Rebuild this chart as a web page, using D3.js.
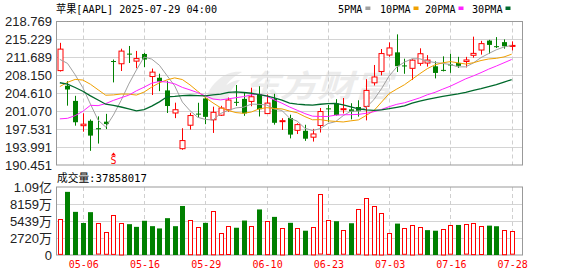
<!DOCTYPE html>
<html><head><meta charset="utf-8">
<script src="https://cdn.jsdelivr.net/npm/d3@7/dist/d3.min.js"></script>
<style>body{margin:0;background:#fff}svg{display:block}</style>
</head><body><svg id="c" width="578" height="276"></svg>
<script>
// ---- data ----
const dates = ["05-01","05-02","05-05","05-06","05-07","05-08","05-09","05-12","05-13","05-14","05-15","05-16","05-19","05-20","05-21","05-22","05-23","05-27","05-28","05-29","05-30","06-02","06-03","06-04","06-05","06-06","06-09","06-10","06-11","06-12","06-13","06-16","06-17","06-18","06-20","06-23","06-24","06-25","06-26","06-27","06-30","07-01","07-02","07-03","07-07","07-08","07-09","07-10","07-11","07-14","07-15","07-16","07-17","07-18","07-21","07-22","07-23","07-24","07-25","07-28"];
const openP  = [209.08,206.09,203.10,198.21,199.17,197.72,199.00,210.97,210.43,212.43,210.95,212.36,207.91,207.67,205.17,200.71,193.67,198.30,200.59,203.58,199.37,200.28,201.35,202.91,203.50,203.00,204.39,200.60,203.50,199.08,199.73,197.30,197.20,195.94,198.24,201.63,202.59,201.45,201.43,201.89,202.01,206.67,208.91,212.15,212.68,210.10,209.53,210.51,210.57,209.93,209.22,210.30,210.57,210.87,212.10,213.14,215.00,213.90,214.70,214.03];
const highP  = [214.56,206.99,204.10,200.65,199.44,200.05,200.54,211.27,213.40,213.94,212.96,212.57,209.48,208.47,207.04,202.75,197.70,200.74,202.73,203.81,201.96,202.13,203.77,206.24,204.75,205.70,206.00,204.35,204.50,199.68,200.37,198.69,198.39,197.57,201.70,202.30,203.44,203.67,202.64,203.22,207.39,210.19,213.34,214.65,216.23,211.43,211.33,213.48,212.13,210.91,211.89,212.40,211.80,211.79,215.78,214.95,215.15,215.69,215.24,214.85];
const lowP   = [208.90,202.16,198.21,197.02,193.25,194.68,197.54,206.75,209.00,210.58,209.54,209.77,204.26,205.03,200.71,199.70,193.46,197.43,199.90,198.51,196.78,200.12,200.96,202.10,200.15,202.05,200.02,200.57,198.41,197.36,195.70,196.56,195.21,195.07,196.86,198.96,200.20,200.62,199.46,200.00,199.26,206.14,208.14,211.81,208.80,208.45,207.22,210.03,209.86,207.54,208.92,208.64,209.59,209.70,211.63,212.23,212.41,213.53,213.40,213.06];
const closeP = [213.32,205.35,198.89,198.51,196.25,197.49,198.53,210.79,212.93,212.33,211.45,211.26,208.78,206.86,202.09,201.36,195.27,200.21,200.42,199.95,200.85,201.70,203.27,202.82,200.63,203.92,201.45,202.67,198.78,199.20,196.45,198.42,195.64,196.58,201.00,201.50,200.30,201.56,201.00,201.08,205.17,207.82,212.44,213.55,209.95,210.01,211.14,212.41,211.16,208.62,209.11,210.16,210.02,211.18,212.48,214.40,214.15,213.76,213.88,214.05];
const volumeM = [57.37,101.01,69.02,51.22,68.54,50.48,36.45,63.78,51.91,49.33,45.03,54.74,46.14,42.50,58.92,46.11,78.43,56.29,45.34,51.40,70.82,35.42,46.38,43.60,55.13,46.61,72.86,54.67,60.99,43.90,51.45,43.02,38.86,45.39,96.81,55.81,54.06,39.53,50.80,73.19,91.91,78.79,67.94,34.96,50.23,42.85,48.75,44.44,39.77,38.84,42.30,47.49,48.07,48.97,51.38,46.40,46.99,46.02,40.27,37.86];
// closes of the 29 sessions before the first candle (needed for the moving averages)
const priorCloses = [214.10,218.27,220.73,223.75,221.53,223.85,217.90,222.13,223.19,223.89,203.19,188.38,181.46,172.42,198.85,190.42,198.15,202.52,202.14,194.27,196.98,193.16,199.74,204.60,208.37,209.28,210.14,211.21,212.50];
const priceTicks = [190.451,193.991,197.531,201.070,204.610,208.150,211.689,215.229,218.769];
const priceTickLabels = ["190.451","193.991","197.531","201.070","204.610","208.150","211.689","215.229","218.769"];
const volTicks = [0,27.195,54.39,81.585,108.78];
const volTickLabels = ["0","2720万","5439万","8159万","1.09亿"];
const dateTickIdx = [3,11,19,27,35,43,51,59];
const maPeriods = [5,10,20,30];
const maLabels = ["5PMA","10PMA","20PMA","30PMA"];
const maColors = ["#a0a0a0","#f0a000","#ff22ff","#006a2c"];
const signalIdx = [7];
const titleText = "苹果[AAPL] 2025-07-29 04:00";
const volTitle = "成交量:37858017";

// ---- layout ----
const L = 56, R = 522, PT = 21.5, PB = 165, VT = 187, VB = 255;
const RED = "#ff0000", GREEN = "#008000";
const svg = d3.select("#c");
svg.append("rect").attr("width",578).attr("height",276).attr("fill","#fff");

const x = d3.scaleLinear().domain([-0.5, 60.35]).range([L, R]);
const y = d3.scaleLinear().domain([priceTicks[0], priceTicks[priceTicks.length-1]]).range([PB, PT]);
const yv = d3.scaleLinear().domain([0, 108.78]).range([VB, VT]);
const cx = i => Math.round(x(i)) + 0.5;

// watermark
const wm = svg.append("g").attr("opacity",0.07);
wm.append("path").attr("d","M205,100 C212,80 228,70 242,72 C230,78 222,88 220,100 Z M214,100 C222,86 232,80 240,80 C232,88 228,94 228,100 Z").attr("fill","#000");
wm.append("text").attr("x",242).attr("y",97).attr("font-family","Noto Sans CJK SC").attr("font-weight","bold")
  .attr("font-size",31).attr("font-style","italic").attr("textLength",150).attr("lengthAdjust","spacingAndGlyphs").attr("fill","#000").text("东方财富");

// horizontal grid
const gridG = svg.append("g");
gridG.selectAll("line.hp").data(priceTicks.slice(1,-1)).join("line")
  .attr("x1",L).attr("x2",R).attr("y1",d=>Math.round(y(d))+0.5).attr("y2",d=>Math.round(y(d))+0.5)
  .attr("stroke","#d4d4d4");
gridG.selectAll("line.hv").data(volTicks.slice(1,-1)).join("line")
  .attr("x1",L).attr("x2",R).attr("y1",d=>Math.round(yv(d))+0.5).attr("y2",d=>Math.round(yv(d))+0.5)
  .attr("stroke","#d4d4d4");
// vertical dashed grid
[[PT,PB],[VT,VB]].forEach(([a,b])=>{
  svg.append("g").selectAll("line").data(dateTickIdx).join("line")
    .attr("x1",d=>cx(d)).attr("x2",d=>cx(d)).attr("y1",a).attr("y2",b)
    .attr("stroke","#cfcfcf").attr("stroke-dasharray","4,3");
});

// borders
svg.append("rect").attr("x",L+0.5).attr("y",PT).attr("width",R-L).attr("height",PB-PT).attr("fill","none").attr("stroke","#999");
svg.append("rect").attr("x",L+0.5).attr("y",VT).attr("width",R-L).attr("height",VB-VT).attr("fill","none").attr("stroke","#999");

// axes
const yAxis = d3.axisLeft(y).tickValues(priceTicks).tickFormat((d,i)=>priceTickLabels[i]).tickSize(0).tickPadding(4);
const ga = svg.append("g").attr("transform",`translate(${L},0)`).call(yAxis);
ga.select(".domain").remove();
ga.selectAll("text").attr("font-family","Liberation Sans, Arial").attr("font-size",13).attr("fill","#222");

const vAxis = d3.axisLeft(yv).tickValues(volTicks).tickFormat((d,i)=>volTickLabels[i]).tickSize(0).tickPadding(4);
const gv = svg.append("g").attr("transform",`translate(${L},0)`).call(vAxis);
gv.select(".domain").remove();
gv.selectAll("text").attr("font-family","Liberation Sans, Noto Sans CJK SC").attr("font-size",13).attr("fill","#222");

const xAxis = d3.axisBottom(x).tickValues(dateTickIdx).tickFormat(i=>dates[i]).tickSize(0).tickPadding(6);
const gx = svg.append("g").attr("transform",`translate(0.5,${VB})`).call(xAxis);
gx.select(".domain").remove();
gx.selectAll("text").attr("font-family","DejaVu Sans Mono").attr("font-size",10).attr("fill","#ff0000");

// candles
const idx = d3.range(dates.length);
const up = i => closeP[i] >= openP[i];
const cg = svg.append("g");
cg.selectAll("line.w").data(idx).join("line")
  .attr("x1",cx).attr("x2",cx).attr("y1",i=>y(highP[i])).attr("y2",i=>y(lowP[i]))
  .attr("stroke",i=>up(i)?RED:GREEN);
cg.selectAll("rect.b").data(idx).join("rect")
  .attr("x",i=> up(i) ? cx(i)-2.5 : cx(i)-2.5)
  .attr("y",i=>y(Math.max(openP[i],closeP[i])))
  .attr("width",i=> up(i)?5:5)
  .attr("height",i=>Math.max(1, y(Math.min(openP[i],closeP[i])) - y(Math.max(openP[i],closeP[i]))))
  .attr("fill",i=>up(i)?"#fff":GREEN)
  .attr("stroke",i=>up(i)?RED:"none");

// moving averages
const allCloses = priorCloses.concat(closeP);
const off = priorCloses.length;
const line = d3.line().x((d,i)=>x(i)).y(d=>y(d));
maPeriods.forEach((p,k)=>{
  const vals = idx.map(i => d3.mean(allCloses.slice(off+i-p+1, off+i+1)));
  svg.append("path").datum(vals).attr("d",line).attr("fill","none")
    .attr("stroke",maColors[k]).attr("stroke-width",k===3?1.3:1);
});

// signal marker
const sg = svg.append("g");
signalIdx.forEach(i=>{
  const c = cx(i);
  sg.append("path").attr("d",`M${c-2.5},155.5 L${c},152.5 L${c+2.5},155.5 Z`).attr("fill",RED);
  sg.append("text").attr("x",c).attr("y",164).attr("text-anchor","middle").attr("font-family","DejaVu Sans Mono")
    .attr("font-size",10).attr("fill",RED).text("S");
});

// volume bars
const prevClose = i => i===0 ? priorCloses[priorCloses.length-1] : closeP[i-1];
const vUp = i => closeP[i] >= prevClose(i);
svg.append("g").selectAll("rect").data(idx).join("rect")
  .attr("x",i=> vUp(i) ? cx(i)-2 : cx(i)-2.5)
  .attr("y",i=> vUp(i) ? Math.round(yv(volumeM[i]))+0.5 : yv(volumeM[i]))
  .attr("width",i=> vUp(i)?4:5)
  .attr("height",i=> VB - yv(volumeM[i]) - (vUp(i)?1:0))
  .attr("fill",i=>vUp(i)?"#fff":GREEN)
  .attr("stroke",i=>vUp(i)?RED:"none");

// titles
svg.append("text").attr("x",56).attr("y",13).attr("font-family","DejaVu Sans Mono, Noto Sans CJK SC").attr("font-size",11)
  .attr("textLength",161).attr("lengthAdjust","spacingAndGlyphs").attr("fill","#000").text(titleText);
svg.append("text").attr("x",57).attr("y",182).attr("font-family","DejaVu Sans Mono, Noto Sans CJK SC").attr("font-size",11)
  .attr("textLength",90).attr("lengthAdjust","spacingAndGlyphs").attr("fill","#000").text(volTitle);

// legend
const legX = [338,380,425,472];
const lg = svg.append("g");
maLabels.forEach((t,k)=>{
  const tw = t.length*6.1;
  lg.append("text").attr("x",legX[k]).attr("y",12.5).attr("font-family","DejaVu Sans Mono").attr("font-size",11)
    .attr("textLength",tw).attr("lengthAdjust","spacingAndGlyphs").attr("fill","#000").text(t);
  lg.append("rect").attr("x",legX[k]+tw+3).attr("y",6.5).attr("width",5).attr("height",3.5).attr("fill",maColors[k]);
});
</script></body></html>
